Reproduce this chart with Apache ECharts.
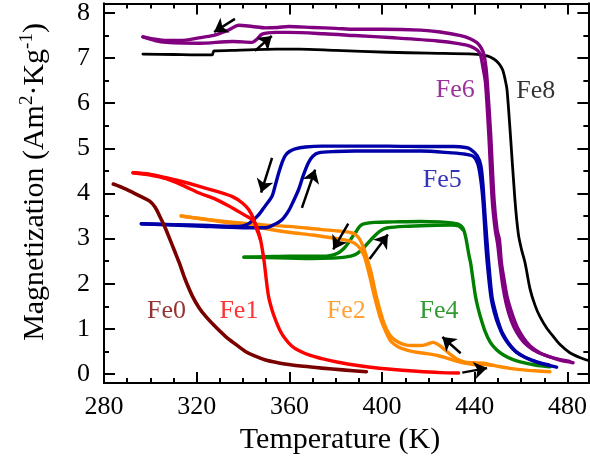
<!DOCTYPE html>
<html>
<head>
<meta charset="utf-8">
<script src="https://cdn.jsdelivr.net/npm/echarts@6/dist/echarts.min.js"></script>
<style>
  html, body { margin: 0; padding: 0; background: #fff; }
  #chart { width: 590px; height: 473px; }
</style>
</head>
<body>
<div id="chart"></div>
<script>
// Magnetization vs temperature, heating / cooling branches per sample

const serifFont = '"Liberation Serif", "Times New Roman", serif';

const samples = ['Fe0', 'Fe1', 'Fe2', 'Fe4', 'Fe5', 'Fe6', 'Fe8'];
const sampleColors = ['#7a0000', '#ff0000', '#ff8a00', '#008000', '#0000a8', '#800080', '#000000'];

// [T (K), M] points along each measured branch
const fe0Branch = [[284,4.21],[288,4.13],[292.5,4.02],[296,3.93],[299.7,3.83],[302,3.7],[304,3.5],[306.3,3.25],[308.3,3.0],[310.5,2.72],[312.5,2.46],[315,2.1],[318.2,1.72],[321,1.47],[324,1.27],[328,1.05],[332.5,0.83],[337,0.65],[341,0.5],[345,0.4],[349.7,0.31],[355,0.25],[359.7,0.21],[366,0.17],[374,0.13],[383,0.09],[393.2,0.05]];

const fe1BranchA = [[292.5,4.46],[299.7,4.43],[306.8,4.35],[314,4.26],[321.1,4.16],[328.3,4.05],[335.4,3.93],[339.7,3.79],[342.5,3.64],[344.7,3.42],[345.8,3.22],[347.5,2.98],[349,2.53],[350,2.1],[351,1.72],[352.5,1.42],[354,1.2],[356,0.96],[358.2,0.78],[361,0.62],[364,0.52],[369,0.41],[374,0.34],[381,0.26],[388,0.2],[395,0.15],[402.5,0.11],[415,0.06],[425,0.03],[433,0.02]];
const fe1BranchB = [[292.5,4.46],[300,4.41],[306.8,4.33],[314,4.18],[321.1,4.01],[328.3,3.87],[335.4,3.68],[341.1,3.51],[344,3.42],[345.6,3.3],[346.8,3.12],[347.5,2.98]];

const fe2BranchA = [[313.3,3.5],[325,3.42],[340,3.34],[350,3.3],[359.7,3.27],[374,3.2],[381,3.17],[386.8,3.13],[389,3.07],[390.4,2.98],[392,2.8],[393.2,2.61],[395.3,2.24],[397.5,1.72],[400.3,1.2],[402,0.98],[403.9,0.83],[406.5,0.72],[409.6,0.65],[413,0.63],[416.7,0.63],[419.5,0.66],[422,0.7],[423.6,0.67],[425.3,0.61],[427.5,0.52],[429.6,0.43],[432,0.34],[435.3,0.27],[439,0.25],[443.9,0.24],[447,0.2],[451,0.16],[456,0.12],[461,0.09],[466,0.07],[472.4,0.05]];
const fe2BranchB = [[313.3,3.5],[322,3.44],[330,3.38],[345,3.26],[359.7,3.14],[370,3.08],[378.2,3.02],[384,2.97],[388,2.9],[390.5,2.78],[392.4,2.6],[394.5,2.2],[396.8,1.7],[399.5,1.2],[401.5,0.95],[403.9,0.72],[407,0.6],[410,0.54],[413.9,0.49],[418,0.46],[423.9,0.41],[428,0.35],[432.5,0.28],[437,0.23],[441,0.2],[444,0.21],[448,0.19]];

const fe4BranchA = [[340.4,2.59],[350,2.6],[359.7,2.61],[368,2.61],[374,2.61],[378,2.63],[381,2.68],[383.5,2.78],[385.4,2.9],[387.3,3.05],[389,3.17],[390.5,3.28],[392.5,3.33],[396.8,3.36],[405,3.37],[416.7,3.38],[425,3.37],[430,3.35],[432.8,3.32],[434.8,3.24],[436,3.05],[436.9,2.8],[437.6,2.6],[438.2,2.46],[439.2,2.1],[440.3,1.72],[441.3,1.48],[442.4,1.27],[444.4,0.95],[446.7,0.7],[449.5,0.53],[452.4,0.42],[456,0.33],[459.6,0.27],[466,0.2],[472.4,0.16]];
const fe4BranchB = [[340.4,2.59],[350,2.58],[359.7,2.57],[370,2.56],[378.2,2.57],[384,2.59],[388.2,2.64],[391,2.74],[393.9,2.9],[396,3.02],[398.2,3.13],[400.2,3.2],[402.5,3.24],[409.6,3.27],[420,3.29],[430,3.3],[433,3.28],[434.8,3.2]];

const fe5BranchA = [[296.1,3.33],[310,3.31],[325,3.29],[338.2,3.27],[342,3.32],[344.5,3.42],[346.8,3.53],[349.5,3.72],[352.5,3.94],[354,4.2],[355.4,4.46],[356.8,4.68],[358.2,4.84],[360,4.93],[362.5,4.99],[367,5.03],[373.9,5.05],[390,5.05],[402.5,5.05],[420,5.04],[431,5.04],[436,5.02],[438.2,4.98],[441,4.84],[442.6,4.62],[443.5,4.2],[444.3,3.6],[445.2,2.98],[446,2.46],[447.4,1.72],[448.8,1.4],[450.3,1.13],[452,0.9],[454.6,0.68],[457.5,0.51],[461,0.39],[465,0.3],[468.1,0.24],[472,0.19],[475.3,0.15]];
const fe5BranchB = [[296.1,3.33],[320,3.28],[340,3.24],[349.7,3.24],[353,3.3],[356.8,3.42],[359.7,3.62],[362,3.86],[364,4.09],[366,4.4],[368.2,4.68],[370,4.82],[372.5,4.9],[380,4.93],[388.2,4.94],[400,4.94],[416.7,4.94],[430,4.9],[436,4.87],[439.4,4.82],[441.3,4.66],[442.6,4.3],[443.6,3.8],[444.6,2.98],[445.5,2.4],[447,1.7],[448.5,1.35],[450.2,1.08],[452.2,0.85],[454.8,0.65],[458,0.48],[462,0.36],[467,0.26],[472,0.2]];

const fe6BranchA = [[296.8,7.47],[302,7.42],[306.8,7.39],[315.4,7.4],[321,7.45],[326.8,7.5],[330.5,7.56],[334,7.63],[338.2,7.73],[344,7.7],[349.7,7.67],[355,7.68],[359.7,7.7],[370,7.68],[380,7.66],[388.2,7.64],[400,7.64],[416.7,7.62],[425,7.58],[433.9,7.5],[438,7.43],[441,7.34],[442.8,7.22],[443.9,7.08],[444.8,6.8],[445.4,6.46],[446.8,5.35],[448.3,3.87],[449.6,3.2],[450.6,2.98],[451.5,2.46],[452.6,2.1],[453.9,1.72],[456,1.35],[458.2,1.05],[461,0.8],[463.9,0.62],[468,0.47],[472.4,0.38],[477,0.3],[482.4,0.25]];
const fe6BranchB = [[296.8,7.47],[302,7.39],[306.8,7.35],[321.1,7.33],[335.4,7.37],[344,7.35],[346.2,7.43],[348.2,7.53],[354,7.57],[359.7,7.57],[375,7.54],[388.2,7.5],[405,7.45],[424,7.38],[433,7.32],[438.2,7.26],[441,7.18],[442.4,7.08],[443.5,6.8],[444.6,6.46],[446,5.35],[447.5,3.87],[448.8,3.2],[449.8,2.9],[450.8,2.45],[452.1,1.95],[453.6,1.55],[455.6,1.2],[458,0.93],[461,0.71],[465,0.54],[470,0.42],[476,0.33],[481,0.28]];

const fe8Branch = [[296.8,7.09],[310,7.08],[320,7.07],[326.6,7.07],[327.5,7.16],[335,7.17],[345,7.19],[364,7.2],[380,7.17],[402.5,7.13],[420,7.11],[439.6,7.09],[445.3,7.05],[448.2,6.98],[450.4,6.88],[452,6.74],[453.2,6.5],[453.9,6.3],[455.3,5.35],[457.3,3.87],[458.8,3.1],[460.2,2.75],[461.7,2.46],[463.9,1.87],[466,1.52],[468.1,1.27],[471,1.02],[473.9,0.83],[477,0.64],[481,0.47],[485,0.37],[488.2,0.31],[492,0.27]];

// which branches belong to which sample (index into samples)
const branches = [
  { sample: 6, points: fe8Branch, width: 2.8 },
  { sample: 5, points: fe6BranchB, width: 3.4 },
  { sample: 5, points: fe6BranchA, width: 3.4 },
  { sample: 3, points: fe4BranchB, width: 3.4 },
  { sample: 3, points: fe4BranchA, width: 3.4 },
  { sample: 2, points: fe2BranchB, width: 3.4 },
  { sample: 2, points: fe2BranchA, width: 3.4 },
  { sample: 4, points: fe5BranchB, width: 3.4 },
  { sample: 4, points: fe5BranchA, width: 3.4 },
  { sample: 1, points: fe1BranchB, width: 3.4 },
  { sample: 1, points: fe1BranchA, width: 3.4 },
  { sample: 0, points: fe0Branch, width: 3.6 }
];

// sweep direction arrows: start and end in (T, M)
const arrowFrom = [[336.5,7.87],[345.1,7.16],[352.5,4.79],[365.4,3.68],[385.4,3.33],[394.6,2.55],[433.9,0.46],[434.6,0.03]];
const arrowTo   = [[327.5,7.58],[352.4,7.49],[347.8,4.02],[371.1,4.53],[378.9,2.76],[402.5,3.09],[426.0,0.82],[445.3,0.13]];

// sample name tags placed in (T, M)
const tagX = [307, 338.2, 384.5, 424.6, 426, 431.6, 466.3];
const tagY = [1.4, 1.4, 1.4, 1.4, 4.29, 6.29, 6.27];

// axis ticks
const xMajor = [280, 320, 360, 400, 440, 480];
const xMinor = [];
for (let t = 290; t <= 480; t += 10) if (xMajor.indexOf(t) < 0) xMinor.push(t);
const yMajor = [0, 1, 2, 3, 4, 5, 6, 7, 8];
const yMinor = [0.5, 1.5, 2.5, 3.5, 4.5, 5.5, 6.5, 7.5];

const X_MIN = 280, X_MAX = 489, Y_MIN = -0.2, Y_MAX = 8.21;

function xAxisDef(pos, ticks, len, withLabels) {
  return {
    type: 'value', position: pos, min: X_MIN, max: X_MAX,
    axisLine: { show: true, onZero: false, lineStyle: { color: '#000', width: 2 } },
    axisTick: { show: true, inside: true, length: len, customValues: ticks, lineStyle: { color: '#000', width: 2 } },
    axisLabel: withLabels ? { show: true, customValues: ticks, fontFamily: serifFont, fontSize: 26, color: '#000', margin: 11 } : { show: false },
    splitLine: { show: false }
  };
}
function yAxisDef(pos, ticks, len, withLabels) {
  return {
    type: 'value', position: pos, min: Y_MIN, max: Y_MAX,
    axisLine: { show: true, onZero: false, lineStyle: { color: '#000', width: 2 } },
    axisTick: { show: true, inside: true, length: len, customValues: ticks, lineStyle: { color: '#000', width: 2 } },
    axisLabel: withLabels ? { show: true, customValues: ticks, fontFamily: serifFont, fontSize: 26, color: '#000', margin: 14 } : { show: false },
    splitLine: { show: false }
  };
}

const series = branches.map(b => ({
  type: 'line',
  xAxisIndex: 0, yAxisIndex: 0,
  data: b.points,
  showSymbol: false, symbol: 'none',
  smooth: 0.3,
  lineStyle: { color: sampleColors[b.sample], width: b.width, cap: 'round', join: 'round' },
  silent: true, animation: false
}));

series.push({
  type: 'lines',
  coordinateSystem: 'cartesian2d',
  xAxisIndex: 0, yAxisIndex: 0,
  symbol: ['none', 'arrow'],
  symbolSize: 13,
  lineStyle: { color: '#000', width: 2.5, opacity: 1 },
  data: arrowFrom.map((p, i) => ({ coords: [p, arrowTo[i]] })),
  z: 5, silent: true, animation: false
});

series.push({
  type: 'scatter',
  xAxisIndex: 0, yAxisIndex: 0,
  symbolSize: 0,
  data: samples.map((s, i) => ({
    value: [tagX[i], tagY[i]],
    label: {
      show: true, position: 'inside', formatter: s,
      fontFamily: serifFont, fontSize: 26, color: sampleColors[i]
    }
  })),
  z: 6, silent: true, animation: false
});

const chart = echarts.init(document.getElementById('chart'), null, { renderer: 'canvas' });
chart.setOption({
  backgroundColor: '#fff',
  animation: false,
  grid: { left: 104, right: -2, top: 3, bottom: 90, containLabel: false },
  xAxis: [
    xAxisDef('bottom', xMajor, 11, true),
    xAxisDef('bottom', xMinor, 5, false),
    xAxisDef('top', xMajor, 11, false),
    xAxisDef('top', xMinor, 5, false)
  ],
  yAxis: [
    yAxisDef('left', yMajor, 11, true),
    yAxisDef('left', yMinor, 5, false),
    yAxisDef('right', yMajor, 11, false),
    yAxisDef('right', yMinor, 5, false)
  ],
  graphic: [
    {
      type: 'text', x: 340, y: 440,
      style: { text: 'Temperature (K)', fontFamily: serifFont, fontSize: 30, fill: '#000', align: 'center', verticalAlign: 'middle' }
    },
    {
      type: 'text', x: 35, y: 182, rotation: Math.PI / 2,
      style: {
        text: '{t|Magnetization (Am}{s|2}{t|·Kg}{s|-1}{t|)}',
        align: 'center', verticalAlign: 'middle',
        rich: {
          t: { fontFamily: serifFont, fontSize: 30, fill: '#000', lineHeight: 34 },
          s: { fontFamily: serifFont, fontSize: 19, fill: '#000', verticalAlign: 'top', lineHeight: 22 }
        }
      }
    }
  ],
  series: series
});
</script>
</body>
</html>
